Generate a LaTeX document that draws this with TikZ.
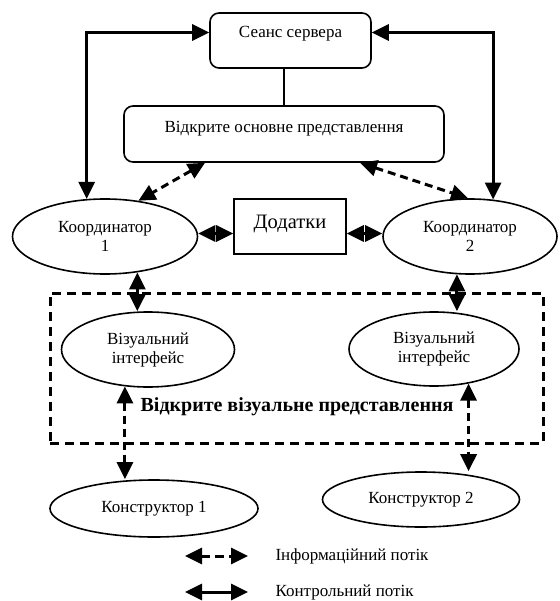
\documentclass[tikz,border=0pt]{standalone}
\usepackage{fontspec}
\setmainfont{Liberation Serif}
\usetikzlibrary{shapes.geometric,arrows.meta}

\tikzset{
  normtext/.style={font=\fontsize{17}{19}\selectfont},
  roundbox/.style={draw, line width=1.6pt, rounded corners=9pt, align=center, inner sep=0pt, normtext},
  plainbox/.style={draw, line width=1.6pt, align=center, inner sep=0pt, font=\fontsize{20.5}{22}\selectfont},
  oval/.style={draw, ellipse, line width=1.6pt, align=center, inner sep=0pt, normtext},
  ctrl/.style={line width=3pt, {Triangle[length=17pt,width=16pt]}-{Triangle[length=17pt,width=16pt]}},
  info/.style={ctrl, dash pattern=on 8pt off 5pt},
}

\begin{document}
\begin{tikzpicture}[x=1pt,y=-1pt]
  \useasboundingbox (0,0) rectangle (559,601);

  % top boxes
  \node (server) at (290.5,40.5) [roundbox, text depth=17pt, minimum width=161pt, minimum height=55pt] {Сеанс сервера};
  \node (view) at (284,134) [roundbox, text depth=15pt, minimum width=320pt, minimum height=56pt] {Відкрите основне представлення};
  \draw [line width=1.6pt] (server.south -| 284,0) -- (view.north);

  % coordinators and applications
  \node (coordA) at (105,236.5) [oval, minimum width=185pt, minimum height=75pt] {Координатор\\1};
  \node (coordB) at (470,236.5) [oval, minimum width=174pt, minimum height=75pt] {Координатор\\2};
  \node (apps) at (290,226.5) [plainbox, text depth=10pt, minimum width=112pt, minimum height=55pt] {Додатки};

  % open visual representation
  \node (openvis) at (296.5,368) [draw, line width=3pt, dash pattern=on 9pt off 6pt, minimum width=493pt, minimum height=150pt] {};
  \node (visA) at (148,349.5) [oval, minimum width=173pt, minimum height=75pt] {Візуальний\\інтерфейс};
  \node (visB) at (434,349) [oval, minimum width=170pt, minimum height=74pt] {Візуальний\\інтерфейс};
  \node (openlabel) at (297,407) [font=\bfseries\fontsize{20}{22}\selectfont] {Відкрите візуальне представлення};

  % constructors
  \node (consA) at (154,508.5) [oval, minimum width=208pt, minimum height=57pt] {Конструктор 1};
  \node (consB) at (421,499.5) [oval, minimum width=197pt, minimum height=55pt] {Конструктор 2};

  % control flows
  \coordinate (coordAe) at ([yshift=3pt]coordA.east);
  \coordinate (coordBw) at ([yshift=3pt]coordB.west);
  \draw [ctrl] (coordA.116) |- ([yshift=8pt]server.west);
  \draw [ctrl] ([yshift=8pt]server.east) -| (coordB.58);
  \draw [ctrl] (coordAe) -- (coordAe -| apps.west);
  \draw [ctrl] (apps.east |- coordBw) -- (coordBw);
  \draw [ctrl] (coordA.-48) -- (coordA.-48 |- visA.north);
  \draw [ctrl] (coordB.-109) -- (coordB.-109 |- visB.north);

  % information flows
  \draw [info] ([xshift=-79pt]view.south) -- (coordA.47);
  \draw [info] ([xshift=76pt]view.south) -- (coordB.93);
  \draw [info] (visA.-122) -- (visA.-122 |- consA.north);
  \draw [info] (visB.-45) -- (visB.-45 |- consB.north);

  % legend
  \coordinate (infoL) at (185,556);
  \coordinate (infoR) at (248,556);
  \coordinate (ctrlL) at (185,592);
  \coordinate (ctrlR) at (248,592);
  \draw [info, dash pattern=on 9pt off 5pt] (infoL) -- (infoR);
  \draw [ctrl] (ctrlL) -- (ctrlR);
  \node (infolabel) at (272,556) [anchor=west, normtext] {Інформаційний потік};
  \node (ctrllabel) at (272,592) [anchor=west, normtext] {Контрольний потік};
\end{tikzpicture}
\end{document}
